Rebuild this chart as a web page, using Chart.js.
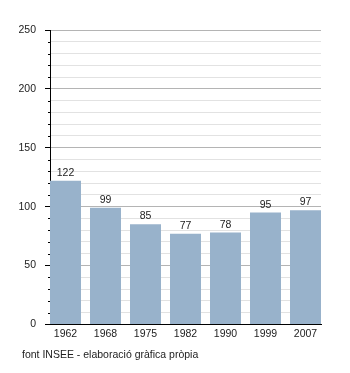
<!DOCTYPE html>
<html>
<head>
<meta charset="utf-8">
<script src="https://cdn.jsdelivr.net/npm/chart.js@4/dist/chart.umd.min.js"></script>
<style>
  body { margin: 0; background: #fff; }
  #wrap { position: relative; width: 350px; height: 373px; }
  #font {
    position: absolute; left: 22px; top: 348px;
    font: 10.5px "Liberation Sans", Arial, sans-serif; color: #222;
  }
</style>
</head>
<body>
<div id="wrap">
  <canvas id="myChart" width="350" height="373"></canvas>
  <div id="font">font INSEE - elaboració gràfica pròpia</div>
</div>
<script>
const years = ["1962", "1968", "1975", "1982", "1990", "1999", "2007"];
const population = [122, 99, 85, 77, 78, 95, 97];
const yTicksMajor = 50;
const yTicksMinor = 10;

const fontSpec = { family: "'Liberation Sans', Arial, sans-serif", size: 10.5 };

// value printed above each bar
const barValues = {
  id: "barValues",
  afterDatasetsDraw(chart) {
    const ctx = chart.ctx;
    ctx.save();
    ctx.fillStyle = "#222";
    ctx.font = "10.5px 'Liberation Sans', Arial, sans-serif";
    ctx.textAlign = "center";
    ctx.textBaseline = "alphabetic";
    chart.getDatasetMeta(0).data.forEach((bar, i) => {
      ctx.fillText(population[i], bar.x, bar.y - 5);
    });
    ctx.restore();
  },
};

// short marks for the minor steps on the y axis
const minorTicks = {
  id: "minorTicks",
  afterDraw(chart) {
    const y = chart.scales.y;
    const ctx = chart.ctx;
    ctx.save();
    ctx.strokeStyle = "#000";
    ctx.lineWidth = 1;
    for (let v = 0; v <= y.max; v += yTicksMinor) {
      if (v % yTicksMajor === 0) continue;
      const py = Math.round(y.getPixelForValue(v)) + 0.5;
      ctx.beginPath();
      ctx.moveTo(y.right - 2, py);
      ctx.lineTo(y.right, py);
      ctx.stroke();
    }
    ctx.restore();
  },
};

new Chart(document.getElementById("myChart"), {
  type: "bar",
  data: {
    datasets: [
      {
        data: population.map((v, i) => ({ x: i, y: v })),
        backgroundColor: "#98b2cb",
        barPercentage: 0.775,
        categoryPercentage: 1,
      },
    ],
  },
  plugins: [barValues, minorTicks],
  options: {
    responsive: false,
    devicePixelRatio: 1,
    animation: false,
    layout: { padding: { top: 30, right: 29, bottom: 30, left: 0 } },
    plugins: { legend: { display: false }, tooltip: { enabled: false } },
    scales: {
      x: {
        type: "linear",
        min: -0.3875,
        max: years.length - 1 + 0.3875,
        offset: false,
        grid: { display: false, drawTicks: false, offset: false },
        border: { color: "#000", width: 1 },
        afterBuildTicks: (s) => {
          s.ticks = years.map((_, i) => ({ value: i }));
        },
        ticks: {
          autoSkip: false,
          maxRotation: 0,
          padding: 3,
          color: "#222",
          font: fontSpec,
          callback: (v) => years[v] ?? "",
        },
      },
      y: {
        min: 0,
        max: 250,
        afterFit: (s) => {
          s.width = 50;
        },
        border: { color: "#000", width: 1 },
        grid: {
          color: (c) => (c.tick.value % yTicksMajor === 0 ? "#b4b4b4" : "#e2e2e2"),
          tickColor: (c) => (c.tick.value % yTicksMajor === 0 ? "#000" : "rgba(0,0,0,0)"),
          tickLength: 5,
        },
        ticks: {
          stepSize: yTicksMinor,
          autoSkip: false,
          padding: 9,
          color: "#222",
          font: fontSpec,
          callback: (v) => (v % yTicksMajor === 0 ? v : ""),
        },
      },
    },
  },
});
</script>
</body>
</html>
